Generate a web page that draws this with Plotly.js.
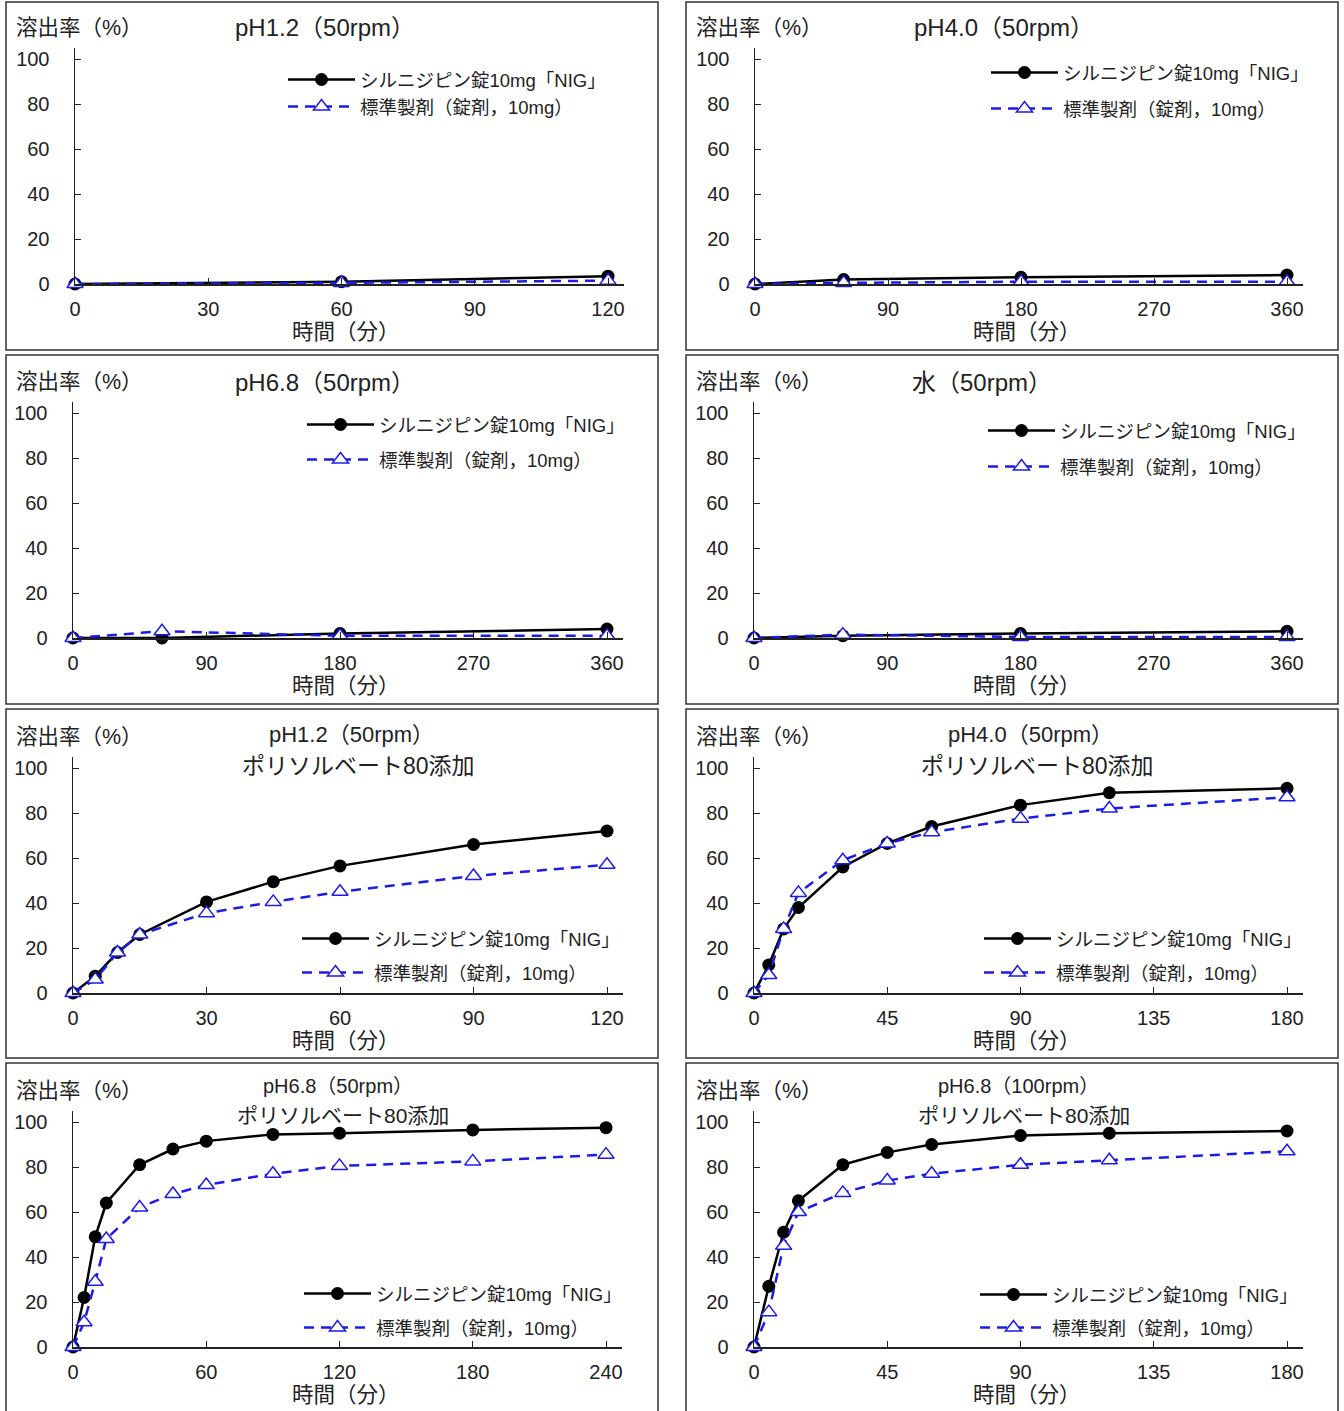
<!DOCTYPE html>
<html>
<head>
<meta charset="utf-8">
<script src="https://cdn.plot.ly/plotly-3.0.1.min.js"></script>
<style>html,body{margin:0;padding:0;background:#fff;}#chart{width:1344px;height:1411px;}</style>
</head>
<body>
<div id="chart"></div>
<script>
// ---------- data ----------
const seriesNames = ['シルニジピン錠10mg「NIG」', '標準製剤（錠剤，10mg）'];

const t_ph12 = [0, 60, 120];
const nig_ph12 = [0, 1, 3.5];
const std_ph12 = [0, 0.5, 1.5];

const t_ph40 = [0, 60, 180, 360];
const nig_ph40 = [0, 2, 3, 4];
const std_ph40 = [0, 0.5, 1, 1];

const t_ph68 = [0, 60, 180, 360];
const nig_ph68 = [0, 0, 2, 4];
const std_ph68 = [0, 3, 1, 1];

const t_water = [0, 60, 180, 360];
const nig_water = [0, 1, 2, 3];
const std_water = [0, 1.5, 0.5, 0.5];

const t_ps_ph12 = [0, 5, 10, 15, 30, 45, 60, 90, 120];
const nig_ps_ph12 = [0, 7.5, 18, 26, 40.5, 49.5, 56.5, 66, 72];
const std_ps_ph12 = [0, 6, 18, 26, 35.5, 40.5, 45, 52, 57];

const t_ps_ph40 = [0, 5, 10, 15, 30, 45, 60, 90, 120, 180];
const nig_ps_ph40 = [0, 12.5, 28.5, 38, 56, 66.5, 74, 83.5, 89, 91];
const std_ps_ph40 = [0, 8, 28.5, 44.5, 59, 66.5, 71.5, 77.5, 82, 87];

const t_ps_ph68 = [0, 5, 10, 15, 30, 45, 60, 90, 120, 180, 240];
const nig_ps_ph68 = [0, 22, 49, 64, 81, 88, 91.5, 94.5, 95, 96.5, 97.5];
const std_ps_ph68 = [0, 11, 29, 48, 62, 68, 72, 77, 80.5, 82.5, 85.5];

const t_ps_ph68_100 = [0, 5, 10, 15, 30, 45, 60, 90, 120, 180];
const nig_ps_ph68_100 = [0, 27, 51, 65, 81, 86.5, 90, 94, 95, 96];
const std_ps_ph68_100 = [0, 15.5, 45, 60, 68.5, 74, 77, 81, 83, 87];

const titles = [
  ['pH1.2（50rpm）'], ['pH4.0（50rpm）'], ['pH6.8（50rpm）'], ['水（50rpm）'],
  ['pH1.2（50rpm）', 'ポリソルベート80添加'], ['pH4.0（50rpm）', 'ポリソルベート80添加'],
  ['pH6.8（50rpm）', 'ポリソルベート80添加'], ['pH6.8（100rpm）', 'ポリソルベート80添加']
];
const xMax = [120, 360, 360, 360, 120, 180, 240, 180];
const xStep = [30, 90, 90, 90, 30, 45, 60, 45];
const yTitle = '溶出率（%）';
const xTitle = '時間（分）';

const panelData = [
  [t_ph12, nig_ph12, std_ph12],
  [t_ph40, nig_ph40, std_ph40],
  [t_ph68, nig_ph68, std_ph68],
  [t_water, nig_water, std_water],
  [t_ps_ph12, nig_ps_ph12, std_ps_ph12],
  [t_ps_ph40, nig_ps_ph40, std_ps_ph40],
  [t_ps_ph68, nig_ps_ph68, std_ps_ph68],
  [t_ps_ph68_100, nig_ps_ph68_100, std_ps_ph68_100]
];

// ---------- layout geometry (pixels) ----------
const W = 1344, H = 1411;
const FONT = '"Liberation Sans", "Noto Sans CJK JP", Arial, sans-serif';
const TXT = '#222';
const BLUE = '#1c1ce6';
const rowY0 = [284, 638, 993, 1347];      // pixel of y = 0
const colX0 = [[75, 755], [73, 754], [73, 754], [73, 754]];
const lastTickPx = [[608, 1287], [607, 1287], [607, 1287], [606, 1287]];
const boxX = [[6, 658], [686, 1338]];
const boxY = [[2, 350], [355, 704], [709, 1058], [1063, 1420]];
const legendPos = [ // [sampleStartX, firstRowY, rowGap]
  [288, 79, 27], [991, 72, 36], [307, 424, 35], [988, 430, 36],
  [302, 938, 34], [984, 938, 34], [304, 1293, 34], [980, 1294, 33]
];
const titlePos = [
  [[325, 28, 24]], [[1004, 28, 24]], [[325, 382, 24]], [[982, 382, 24]],
  [[351, 734, 22], [358, 766, 23]], [[1030, 734, 22], [1037, 766, 23]],
  [[338, 1086, 20], [343, 1115, 21]], [[1018, 1086, 20], [1024, 1115, 21]]
];

const px = v => v / W;
const py = v => 1 - v / H;

const traces = [];
const layout = {
  width: W, height: H,
  margin: {l: 0, r: 0, t: 0, b: 0},
  paper_bgcolor: '#fff', plot_bgcolor: 'rgba(0,0,0,0)',
  font: {family: FONT, color: TXT},
  showlegend: true,
  annotations: [], shapes: []
};

for (let i = 0; i < 8; i++) {
  const row = Math.floor(i / 2), col = i % 2;
  const s = i === 0 ? '' : String(i + 1);
  const x0 = colX0[row][col], xl = lastTickPx[row][col];
  const xEnd = x0 + (xl - x0) * 1.03;
  const y0 = rowY0[row];
  const yTop = y0 - 225 * 1.05;
  const legName = 'legend' + s;

  layout['xaxis' + s] = {
    domain: [px(x0), px(xEnd)], range: [0, xMax[i] * 1.03], anchor: 'y' + s,
    tickmode: 'linear', tick0: 0, dtick: xStep[i],
    showline: true, linecolor: TXT, linewidth: 1.5,
    ticks: 'inside', ticklen: 6, tickcolor: TXT, tickwidth: 1,
    showgrid: false, zeroline: false, ticklabelstandoff: 6,
    tickfont: {family: FONT, size: 20, color: TXT}, fixedrange: true
  };
  layout['yaxis' + s] = {
    domain: [py(y0), py(yTop)], range: [0, 105], anchor: 'x' + s,
    tickmode: 'linear', tick0: 0, dtick: 20,
    showline: true, linecolor: TXT, linewidth: 1.5,
    ticks: 'inside', ticklen: 6, tickcolor: TXT, tickwidth: 1,
    showgrid: false, zeroline: false, ticklabelstandoff: 20,
    tickfont: {family: FONT, size: 20, color: TXT}, fixedrange: true
  };

  const [t, a, b] = panelData[i];
  traces.push({
    x: t, y: a, xaxis: 'x' + s, yaxis: 'y' + s, type: 'scatter', mode: 'lines+markers',
    name: seriesNames[0], legend: legName, legendgroup: 'g' + i + 'a',
    line: {color: '#000', width: 2.5}, marker: {symbol: 'circle', size: 13, color: '#000'},
    cliponaxis: false
  });
  traces.push({
    x: t, y: b, xaxis: 'x' + s, yaxis: 'y' + s, type: 'scatter', mode: 'lines+markers',
    name: seriesNames[1], legend: legName, legendgroup: 'g' + i + 'b',
    line: {color: BLUE, width: 2.5, dash: '10px,7px'},
    marker: {symbol: 'triangle-up', size: 14, color: '#fff', line: {color: BLUE, width: 1.5}},
    cliponaxis: false
  });

  const lp = legendPos[i];
  layout[legName] = {
    x: px(lp[0] - 5), y: py(lp[1] - 18), xanchor: 'left', yanchor: 'top',
    bgcolor: 'rgba(0,0,0,0)', borderwidth: 0,
    font: {family: FONT, size: 18.5, color: TXT},
    itemwidth: 67, traceorder: 'grouped', tracegroupgap: lp[2] - 27,
    itemclick: false, itemdoubleclick: false
  };

  // panel border
  layout.shapes.push({
    type: 'rect', xref: 'paper', yref: 'paper', layer: 'above',
    x0: px(boxX[col][0]), x1: px(boxX[col][1]), y0: py(boxY[row][1]), y1: py(boxY[row][0]),
    line: {color: '#333', width: 1.5}
  });

  // y title
  layout.annotations.push({
    xref: 'paper', yref: 'paper', x: px(boxX[col][0] + 8), y: py(28 + (rowY0[row] - 284)),
    xanchor: 'left', yanchor: 'middle', showarrow: false, text: yTitle,
    font: {family: FONT, size: 21.5, color: TXT}
  });
  // x title
  layout.annotations.push({
    xref: 'paper', yref: 'paper', x: px(col === 0 ? 346 : 1027), y: py(332 + (rowY0[row] - 284)),
    xanchor: 'center', yanchor: 'middle', showarrow: false, text: xTitle,
    font: {family: FONT, size: 21.5, color: TXT}
  });
  // panel title lines
  titles[i].forEach((txt, k) => {
    const tp = titlePos[i][k];
    layout.annotations.push({
      xref: 'paper', yref: 'paper', x: px(tp[0]), y: py(tp[1]),
      xanchor: 'center', yanchor: 'middle', showarrow: false, text: txt,
      font: {family: FONT, size: tp[2], color: TXT}
    });
  });
}

Plotly.newPlot('chart', traces, layout, {staticPlot: true, displayModeBar: false});
</script>
</body>
</html>
